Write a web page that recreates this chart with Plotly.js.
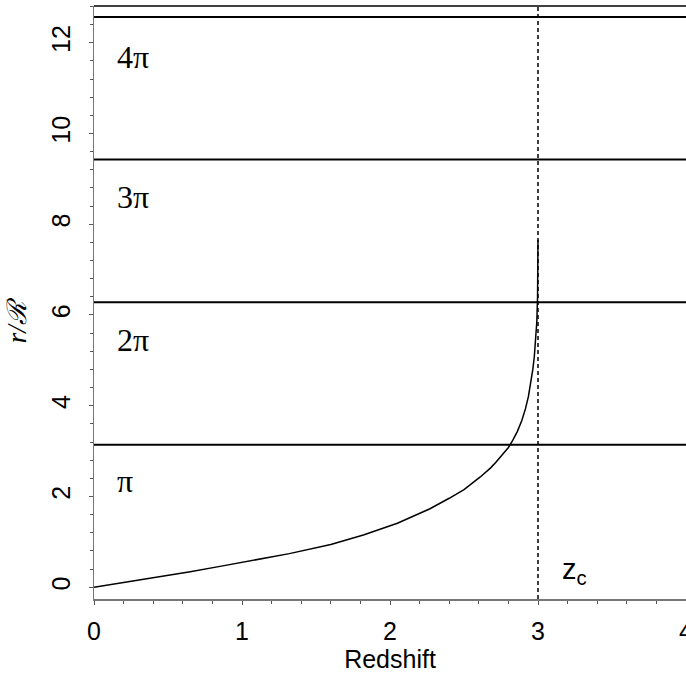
<!DOCTYPE html>
<html>
<head>
<meta charset="utf-8">
<script src="https://cdn.plot.ly/plotly-3.0.1.min.js"></script>
<style>html,body{margin:0;padding:0;background:#fff;}#chart{width:686px;height:675px;}</style>
</head>
<body>
<div id="chart"></div>
<script>
// Curve: r/R versus redshift
const redshift = [0, 0.2, 0.42, 0.65, 0.87, 1.1, 1.32, 1.6, 1.82, 2.05, 2.27, 2.4, 2.5, 2.61, 2.68, 2.72, 2.76, 2.8, 2.83, 2.86, 2.89, 2.915, 2.935, 2.95, 2.965, 2.975, 2.985, 2.992, 2.997, 2.999, 3.0];
const rOverR  = [0, 0.1, 0.21, 0.34, 0.47, 0.6, 0.74, 0.94, 1.15, 1.41, 1.73, 1.96, 2.15, 2.43, 2.63, 2.77, 2.92, 3.08, 3.24, 3.43, 3.67, 3.93, 4.2, 4.47, 4.8, 5.08, 5.45, 5.85, 6.4, 6.9, 7.65];
// Horizontal reference levels
const levels = [Math.PI, 2*Math.PI, 3*Math.PI, 4*Math.PI];
const levelLabels = ['π', '2π', '3π', '4π'];
const labelY = [2.33, 5.45, 8.6, 11.68];
const labelX = 0.14;
// Critical redshift
const zc = 3;
const xRange = [0, 4];
const yRange = [-0.26, 12.81];

const traces = [];
levels.forEach(v => traces.push({x: xRange, y: [v, v], mode: 'lines', line: {color: '#000', width: 2}, hoverinfo: 'skip'}));
traces.push({x: [zc, zc], y: yRange, mode: 'lines', line: {color: '#000', width: 1.5, dash: '4px,3px'}, hoverinfo: 'skip'});
traces.push({x: redshift, y: rOverR, mode: 'lines', line: {color: '#000', width: 1.5}});

const annotations = levelLabels.map((t, i) => ({
  x: labelX, y: labelY[i], xref: 'x', yref: 'y', text: t, showarrow: false,
  xanchor: 'left', yanchor: 'middle',
  font: {family: 'Liberation Serif, Times New Roman, serif', size: 32, color: '#000'}
}));
annotations.push({
  x: 3.15, y: 0.35, xref: 'x', yref: 'y', showarrow: false, xanchor: 'left', yanchor: 'middle',
  text: 'z<sub>c</sub>', font: {family: 'Liberation Sans, Arial, sans-serif', size: 29, color: '#000'}
});
annotations.push({
  x: -77/592, y: 0.47, xref: 'paper', yref: 'paper', showarrow: false, textangle: -90,
  xanchor: 'center', yanchor: 'middle',
  text: '<i>r/ℛ</i>', font: {family: 'Liberation Serif, DejaVu Serif, serif', size: 27, color: '#000'}
});

const layout = {
  width: 686, height: 675,
  margin: {l: 94, r: 0, t: 6, b: 76},
  paper_bgcolor: '#fff', plot_bgcolor: '#fff',
  showlegend: false,
  font: {family: 'Liberation Sans, Arial, sans-serif', size: 25, color: '#000'},
  xaxis: {
    range: xRange, dtick: 1, tick0: 0, showgrid: false, zeroline: false,
    showline: true, linecolor: '#777', linewidth: 1.5, mirror: false,
    ticks: 'outside', ticklen: 4, tickcolor: '#555', tickwidth: 1,
    minor: {dtick: 0.2, ticks: 'outside', ticklen: 3, tickcolor: '#555', showgrid: false},
    tickfont: {size: 25}, ticklabelstandoff: 5, ticklabeloverflow: 'allow',
    title: {text: 'Redshift', font: {size: 25}, standoff: 2}
  },
  yaxis: {
    range: yRange, dtick: 2, tick0: 0, showgrid: false, zeroline: false,
    showline: true, linecolor: '#777', linewidth: 1.5, mirror: true,
    ticks: 'outside', ticklen: 4, tickcolor: '#555', tickwidth: 1,
    minor: {dtick: 0.4, ticks: 'outside', ticklen: 3, tickcolor: '#555', showgrid: false},
    tickangle: -90, tickfont: {size: 25}, ticklabelstandoff: 9, ticklabeloverflow: 'allow'
  },
  shapes: [{type: 'line', xref: 'paper', yref: 'paper', x0: 0, x1: 1, y0: 1, y1: 1, line: {color: '#000', width: 1.5}}],
  annotations: annotations
};

Plotly.newPlot('chart', traces, layout, {displayModeBar: false, staticPlot: true});
</script>
</body>
</html>
